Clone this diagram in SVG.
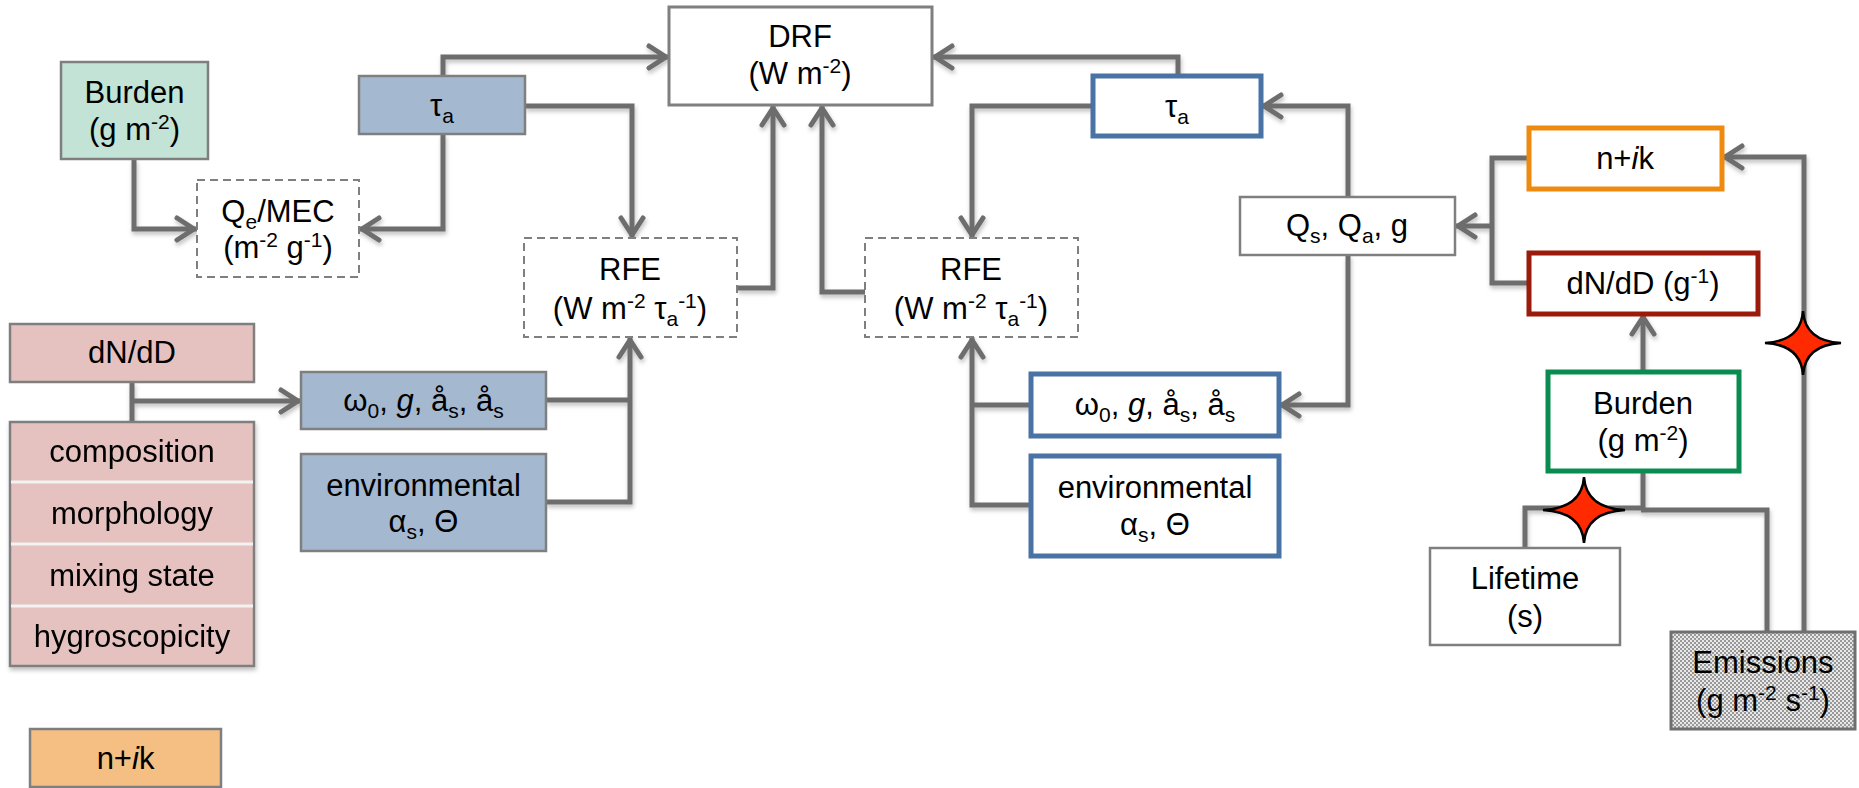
<svg xmlns="http://www.w3.org/2000/svg" width="1859" height="788" viewBox="0 0 1859 788">
<style>
text{font-family:"Liberation Sans",Arial,sans-serif;font-size:31px;fill:#000;text-anchor:middle}
.sm{font-size:21px}
.g{stroke:#7f7f7f;stroke-width:2.5}
.dash{fill:#fff;stroke:#7f7f7f;stroke-width:2;stroke-dasharray:8 5}
.blueL{fill:#a4b8d0;stroke:#7f7f7f;stroke-width:2.5}
.pink{fill:#e5c2bf;stroke:#7f7f7f;stroke-width:2.5}
.blueR{fill:#fff;stroke:#4a73a5;stroke-width:5}
.c{fill:none;stroke:#6d6d6d;stroke-width:5;stroke-linejoin:miter}
.star{fill:#ff2a00;stroke:#000;stroke-width:2.5;stroke-linejoin:miter}
</style>
<defs>
<marker id="ah" markerUnits="userSpaceOnUse" markerWidth="40" markerHeight="40" viewBox="-30 -20 40 40" refX="0" refY="0" orient="auto">
<path d="M-20,-11 L-3,0 L-20,11" fill="none" stroke="#6d6d6d" stroke-width="5" stroke-linecap="round"/>
</marker>
<pattern id="chk" width="4" height="4" patternUnits="userSpaceOnUse">
<rect width="4" height="4" fill="#e8e8e8"/>
<rect width="2" height="2" fill="#999"/>
<rect x="2" y="2" width="2" height="2" fill="#999"/>
</pattern>
<filter id="sh" x="-5%" y="-5%" width="110%" height="120%">
<feDropShadow dx="1" dy="3" stdDeviation="2" flood-color="#000" flood-opacity="0.25"/>
</filter>
</defs>

<g id="connectors" filter="url(#sh)">
<path class="c" d="M134 159 V229 H197" marker-end="url(#ah)"/>
<path class="c" d="M443 134 V229 H359" marker-end="url(#ah)"/>
<path class="c" d="M443 76 V57 H669" marker-end="url(#ah)"/>
<path class="c" d="M525 106 H632 V238" marker-end="url(#ah)"/>
<path class="c" d="M737 288 H773 V105" marker-end="url(#ah)"/>
<path class="c" d="M865 292 H822 V105" marker-end="url(#ah)"/>
<path class="c" d="M1093 106 H972 V238" marker-end="url(#ah)"/>
<path class="c" d="M1178 76 V57 H932" marker-end="url(#ah)"/>
<path class="c" d="M1348 197 V106 H1261" marker-end="url(#ah)"/>
<path class="c" d="M1348 255 V405 H1279" marker-end="url(#ah)"/>
<path class="c" d="M1529 158 H1492 V283 H1529"/>
<path class="c" d="M1492 226 H1455" marker-end="url(#ah)"/>
<path class="c" d="M1643 372 V314" marker-end="url(#ah)"/>
<path class="c" d="M1643 471 V510"/>
<path class="c" d="M1525 548 V508 H1643"/>
<path class="c" d="M1641 510 H1767 V632"/>
<path class="c" d="M1804 632 V157 H1722" marker-end="url(#ah)"/>
<path class="c" d="M546 400 H630"/>
<path class="c" d="M546 502 H630 V337" marker-end="url(#ah)"/>
<path class="c" d="M1031 405 H972"/>
<path class="c" d="M1031 505 H972 V337" marker-end="url(#ah)"/>
<path class="c" d="M132 382 V422"/>
<path class="c" d="M132 401 H301" marker-end="url(#ah)"/>
</g>

<g id="burdenL">
<rect x="61" y="62" width="147" height="97" fill="#c2e3d5" class="g"/>
<text x="134.5" y="103">Burden</text>
<text x="134.5" y="140">(g m<tspan class="sm" dy="-11">-2</tspan><tspan dy="11">)</tspan></text>
</g>

<g id="tauL">
<rect x="359" y="76" width="166" height="58" class="blueL"/>
<text x="442" y="116">τ<tspan class="sm" dy="7">a</tspan></text>
</g>

<g id="qemec">
<rect x="197" y="180" width="162" height="97" class="dash"/>
<text x="278" y="222">Q<tspan class="sm" dy="7">e</tspan><tspan dy="-7">/MEC</tspan></text>
<text x="278" y="258">(m<tspan class="sm" dy="-11">-2</tspan><tspan dy="11"> g</tspan><tspan class="sm" dy="-11">-1</tspan><tspan dy="11">)</tspan></text>
</g>

<g id="drf">
<rect x="669" y="7" width="263" height="98" fill="#fff" stroke="#7f7f7f" stroke-width="3"/>
<text x="800" y="47">DRF</text>
<text x="800" y="84">(W m<tspan class="sm" dy="-11">-2</tspan><tspan dy="11">)</tspan></text>
</g>

<g id="rfeL">
<rect x="524" y="238" width="213" height="99" class="dash"/>
<text x="630" y="280">RFE</text>
<text x="630" y="319">(W m<tspan class="sm" dy="-11">-2</tspan><tspan dy="11"> τ</tspan><tspan class="sm" dy="7">a</tspan><tspan class="sm" dy="-18">-1</tspan><tspan dy="11">)</tspan></text>
</g>

<g id="rfeR">
<rect x="865" y="238" width="213" height="99" class="dash"/>
<text x="971" y="280">RFE</text>
<text x="971" y="319">(W m<tspan class="sm" dy="-11">-2</tspan><tspan dy="11"> τ</tspan><tspan class="sm" dy="7">a</tspan><tspan class="sm" dy="-18">-1</tspan><tspan dy="11">)</tspan></text>
</g>

<g id="tauR">
<rect x="1093" y="76" width="168" height="60" class="blueR"/>
<text x="1177" y="117">τ<tspan class="sm" dy="7">a</tspan></text>
</g>

<g id="qsqag">
<rect x="1240" y="197" width="215" height="58" fill="#fff" class="g"/>
<text x="1347" y="236">Q<tspan class="sm" dy="7">s</tspan><tspan dy="-7">, Q</tspan><tspan class="sm" dy="7">a</tspan><tspan dy="-7">, g</tspan></text>
</g>

<g id="nikR">
<rect x="1529" y="128" width="193" height="61" fill="#fff" stroke="#ef8a10" stroke-width="5"/>
<text x="1625" y="169">n+<tspan font-style="italic">i</tspan>k</text>
</g>

<g id="dndDR">
<rect x="1529" y="253" width="229" height="61" fill="#fff" stroke="#9a1a0b" stroke-width="5"/>
<text x="1643" y="294">dN/dD (g<tspan class="sm" dy="-11">-1</tspan><tspan dy="11">)</tspan></text>
</g>

<g id="burdenR">
<rect x="1548" y="372" width="191" height="99" fill="#fff" stroke="#0a8c50" stroke-width="5"/>
<text x="1643" y="414">Burden</text>
<text x="1643" y="451">(g m<tspan class="sm" dy="-11">-2</tspan><tspan dy="11">)</tspan></text>
</g>

<g id="lifetime">
<rect x="1430" y="548" width="190" height="97" fill="#fff" class="g"/>
<text x="1525" y="589">Lifetime</text>
<text x="1525" y="627">(s)</text>
</g>

<g id="emissions">
<rect x="1671" y="632" width="184" height="97" fill="url(#chk)" stroke="#6f6f6f" stroke-width="3"/>
<text x="1763" y="673">Emissions</text>
<text x="1763" y="711">(g m<tspan class="sm" dy="-11">-2</tspan><tspan dy="11"> s</tspan><tspan class="sm" dy="-11">-1</tspan><tspan dy="11">)</tspan></text>
</g>

<g id="omegaR">
<rect x="1031" y="374" width="248" height="62" class="blueR"/>
<text x="1155" y="415">ω<tspan class="sm" dy="7">0</tspan><tspan dy="-7">, </tspan><tspan font-style="italic">g</tspan>, å<tspan class="sm" dy="7">s</tspan><tspan dy="-7">, å</tspan><tspan class="sm" dy="7">s</tspan></text>
</g>

<g id="envR">
<rect x="1031" y="456" width="248" height="100" class="blueR"/>
<text x="1155" y="498">environmental</text>
<text x="1155" y="535">α<tspan class="sm" dy="7">s</tspan><tspan dy="-7">, Θ</tspan></text>
</g>

<g id="omegaL">
<rect x="301" y="372" width="245" height="57" class="blueL"/>
<text x="423.5" y="411">ω<tspan class="sm" dy="7">0</tspan><tspan dy="-7">, </tspan><tspan font-style="italic">g</tspan>, å<tspan class="sm" dy="7">s</tspan><tspan dy="-7">, å</tspan><tspan class="sm" dy="7">s</tspan></text>
</g>

<g id="envL">
<rect x="301" y="454" width="245" height="97" class="blueL"/>
<text x="423.5" y="496">environmental</text>
<text x="423.5" y="532">α<tspan class="sm" dy="7">s</tspan><tspan dy="-7">, Θ</tspan></text>
</g>

<g id="dndDL">
<rect x="10" y="324" width="244" height="58" class="pink"/>
<text x="132" y="363">dN/dD</text>
</g>

<g id="stack" filter="url(#sh)">
<rect x="10" y="422" width="244" height="244" class="pink"/>
<line x1="11" y1="482" x2="253" y2="482" stroke="#f2f2f2" stroke-width="3"/>
<line x1="11" y1="544" x2="253" y2="544" stroke="#f2f2f2" stroke-width="3"/>
<line x1="11" y1="606" x2="253" y2="606" stroke="#f2f2f2" stroke-width="3"/>
<text x="132" y="462">composition</text>
<text x="132" y="524">morphology</text>
<text x="132" y="586">mixing state</text>
<text x="132" y="647">hygroscopicity</text>
</g>

<g id="legendNik">
<rect x="30" y="729" width="191" height="58" fill="#f5be82" class="g"/>
<text x="125.5" y="769">n+<tspan font-style="italic">i</tspan>k</text>
</g>

<g id="star1">
<path class="star" d="M1803 311 Q1805 341 1841 343 Q1805 345 1803 375 Q1801 345 1765 343 Q1801 341 1803 311 Z"/>
</g>
<g id="star2">
<path class="star" d="M1584 477 Q1586 508 1625 510 Q1586 512 1584 543 Q1582 512 1543 510 Q1582 508 1584 477 Z"/>
</g>
</svg>
